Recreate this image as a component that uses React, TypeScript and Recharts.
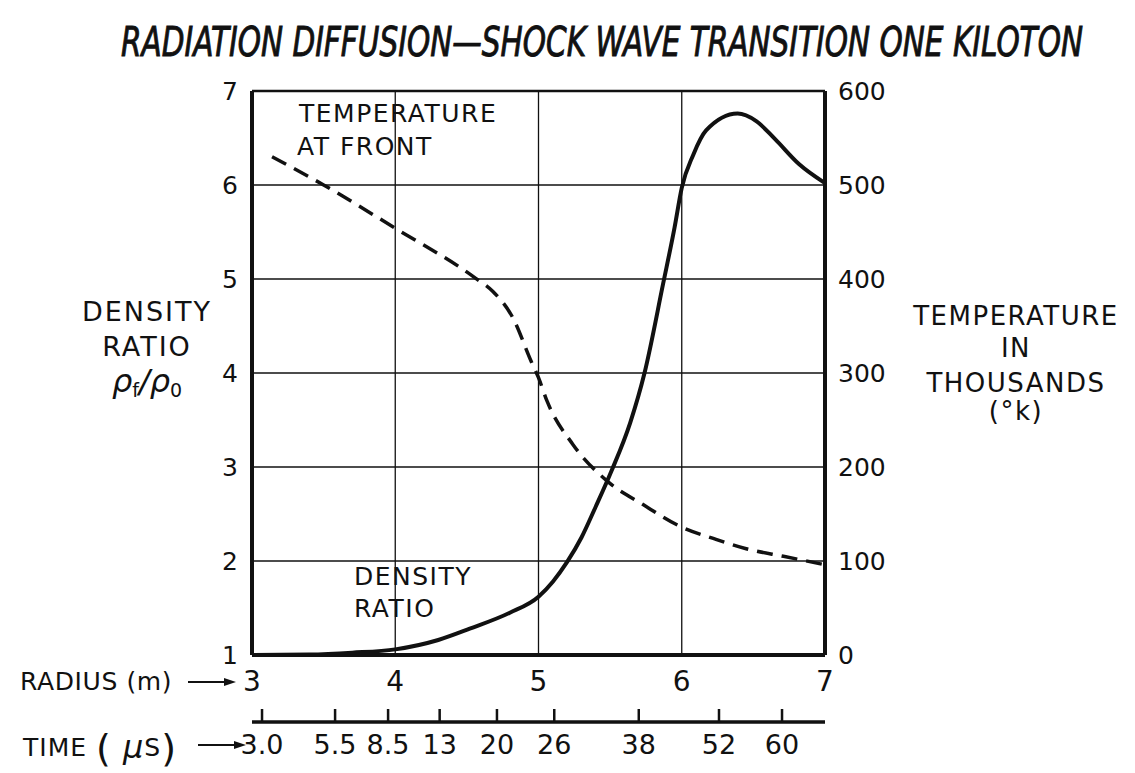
import React from "react";
import {
  CartesianGrid,
  ComposedChart,
  Line,
  ReferenceLine,
  XAxis,
  YAxis,
} from "recharts";

// axis ticks
const radiusTicks = [3, 4, 5, 6, 7];
const densityTicks = [1, 2, 3, 4, 5, 6, 7];
const tempTicks = [0, 100, 200, 300, 400, 500, 600];

// time scale drawn under the radius scale (label -> radius where its tick sits)
const timeLabels = ["3.0", "5.5", "8.5", "13", "20", "26", "38", "52", "60"];
const timeAtRadius = [3.07, 3.58, 3.95, 4.31, 4.71, 5.11, 5.7, 6.26, 6.7];

// density ratio (solid), radius in m
const densityRadius = [
  3.0, 3.4, 3.7, 4.0, 4.3, 4.52, 4.8, 5.0, 5.1, 5.2, 5.3, 5.4, 5.51, 5.64,
  5.74, 5.87, 5.95, 6.0, 6.08, 6.17, 6.39, 6.52, 6.65, 6.82, 7.0,
];
const densityRatio = [
  1.0, 1.005, 1.025, 1.06, 1.16, 1.28, 1.45, 1.62, 1.78, 1.99, 2.25, 2.58,
  2.96, 3.47, 4.0, 4.95, 5.55, 5.97, 6.32, 6.58, 6.76, 6.68, 6.49, 6.22, 6.02,
];

// temperature at front (dashed), thousands of K
const tempRadius = [
  3.14, 3.5, 4.0, 4.55, 4.68, 4.82, 4.95, 5.0, 5.06, 5.24, 5.48, 5.73, 6.0,
  6.22, 6.45, 6.71, 7.0,
];
const tempFront = [
  530, 500, 454, 402, 387, 359, 312, 295, 270, 224, 185, 160, 136, 124, 113,
  105, 96,
];

const densityData = densityRadius.map((r, i) => ({ r, d: densityRatio[i] }));
const tempData = tempRadius.map((r, i) => ({ r, t: tempFront[i] }));

const W = 1135;
const H = 773;
const INK = "#111";
const FONT = "'DejaVu Sans', 'Noto Sans', sans-serif";

const LeftTick = ({ x, y, payload }: any) => (
  <text x={x - 14} y={y} dy="0.36em" textAnchor="end" fontSize={25} fill={INK} fontFamily={FONT}>
    {payload.value}
  </text>
);

const RightTick = ({ x, y, payload }: any) => (
  <text x={x + 13} y={y} dy="0.36em" textAnchor="start" fontSize={25} fill={INK} fontFamily={FONT}>
    {payload.value}
  </text>
);

const RadiusTick = ({ x, y, payload }: any) => (
  <text x={x} y={y + 36} textAnchor="middle" fontSize={28} fill={INK} fontFamily={FONT}>
    {payload.value}
  </text>
);

const TimeTick = ({ x, y, index }: any) => (
  <g>
    <line x1={x} x2={x} y1={y} y2={y - 13} stroke={INK} strokeWidth={2.5} />
    <text x={x} y={y + 32} textAnchor="middle" fontSize={27} fill={INK} fontFamily={FONT}>
      {timeLabels[index]}
    </text>
  </g>
);

const Arrow = ({ x1, x2, y }: { x1: number; x2: number; y: number }) => (
  <g>
    <line x1={x1} x2={x2 - 8} y1={y} y2={y} stroke={INK} strokeWidth={1.8} />
    <polygon points={`${x2},${y} ${x2 - 12},${y - 4} ${x2 - 12},${y + 4}`} fill={INK} />
  </g>
);

export default function App() {
  return (
    <div style={{ position: "absolute", left: 0, top: 0, width: W, height: H, background: "#fff" }}>
      <ComposedChart width={W} height={H} margin={{ top: 91, right: 250, bottom: 0, left: 192 }}>
        <CartesianGrid xAxisId="r" yAxisId="d" stroke={INK} strokeWidth={1.3} />
        <XAxis
          xAxisId="r"
          dataKey="r"
          type="number"
          domain={[3, 7]}
          ticks={radiusTicks}
          allowDataOverflow
          height={67}
          axisLine={{ stroke: INK, strokeWidth: 4 }}
          tickLine={false}
          tickSize={0}
          tickMargin={0}
          tick={<RadiusTick />}
        />
        <XAxis
          xAxisId="time"
          dataKey="r"
          type="number"
          domain={[3, 7]}
          ticks={timeAtRadius}
          allowDataOverflow
          height={51}
          axisLine={{ stroke: INK, strokeWidth: 3.5 }}
          tickLine={false}
          tickSize={0}
          tickMargin={0}
          tick={<TimeTick />}
        />
        <YAxis
          yAxisId="d"
          type="number"
          domain={[1, 7]}
          ticks={densityTicks}
          allowDataOverflow
          width={60}
          axisLine={{ stroke: INK, strokeWidth: 4 }}
          tickLine={false}
          tickSize={0}
          tickMargin={0}
          tick={<LeftTick />}
        />
        <YAxis
          yAxisId="t"
          orientation="right"
          type="number"
          domain={[0, 600]}
          ticks={tempTicks}
          allowDataOverflow
          width={60}
          axisLine={{ stroke: INK, strokeWidth: 4 }}
          tickLine={false}
          tickSize={0}
          tickMargin={0}
          tick={<RightTick />}
        />
        <ReferenceLine xAxisId="r" yAxisId="d" y={7} stroke={INK} strokeWidth={2.5} />
        <Line
          xAxisId="r"
          yAxisId="t"
          data={tempData}
          dataKey="t"
          type="monotone"
          stroke={INK}
          strokeWidth={3.5}
          strokeDasharray="16 9"
          dot={false}
          activeDot={false}
          isAnimationActive={false}
        />
        <Line
          xAxisId="r"
          yAxisId="d"
          data={densityData}
          dataKey="d"
          type="monotone"
          stroke={INK}
          strokeWidth={4}
          dot={false}
          activeDot={false}
          isAnimationActive={false}
        />
      </ComposedChart>

      <svg
        width={W}
        height={H}
        style={{ position: "absolute", left: 0, top: 0, pointerEvents: "none" }}
        fontFamily={FONT}
        fill={INK}
      >
        <text
          transform="translate(121 56) scale(1 1.3)"
          x={0}
          y={0}
          fontSize={31}
          fontStyle="italic"
          stroke={INK}
          strokeWidth={0.7}
          fontFamily="'DejaVu Sans Condensed', 'Liberation Sans Narrow', 'DejaVu Sans', sans-serif"
          textLength={962}
          lengthAdjust="spacingAndGlyphs"
        >
          RADIATION DIFFUSION—SHOCK WAVE TRANSITION ONE KILOTON
        </text>

        {/* left axis title */}
        <g textAnchor="middle" fontSize={27} style={{ letterSpacing: 2 }}>
          <text x={147} y={321}>DENSITY</text>
          <text x={147} y={356}>RATIO</text>
        </g>
        <text x={147} y={392} textAnchor="middle" fontSize={32} fontStyle="italic">
          ρ<tspan fontSize={19} fontStyle="normal" dy={5}>f</tspan>
          <tspan dy={-5}>/ρ</tspan>
          <tspan fontSize={19} fontStyle="normal" dy={5}>0</tspan>
        </text>

        {/* right axis title */}
        <g textAnchor="middle" fontSize={26} style={{ letterSpacing: 1.5 }}>
          <text x={1016} y={325}>TEMPERATURE</text>
          <text x={1016} y={357}>IN</text>
          <text x={1016} y={392}>THOUSANDS</text>
          <text x={1016} y={420}>(°k)</text>
        </g>

        {/* curve labels */}
        <g fontSize={25} style={{ letterSpacing: 1.5 }}>
          <text x={299} y={122}>TEMPERATURE</text>
          <text x={297} y={155}>AT FRONT</text>
          <text x={354} y={585}>DENSITY</text>
          <text x={354} y={617}>RATIO</text>
        </g>

        {/* scale captions */}
        <text x={20} y={690} fontSize={25} style={{ letterSpacing: 0.6 }}>
          RADIUS (m)
        </text>
        <Arrow x1={188} x2={236} y={682} />
        <text x={23} y={756} fontSize={25} style={{ letterSpacing: 1 }}>
          TIME{" "}
          <tspan fontSize={38} dy={5}>(</tspan>
          <tspan fontSize={32} fontStyle="italic" dy={-3}> μ</tspan>
          <tspan fontSize={25} dy={-2}>S</tspan>
          <tspan fontSize={38} dy={5}>)</tspan>
        </text>
        <Arrow x1={198} x2={246} y={745} />
      </svg>
    </div>
  );
}
